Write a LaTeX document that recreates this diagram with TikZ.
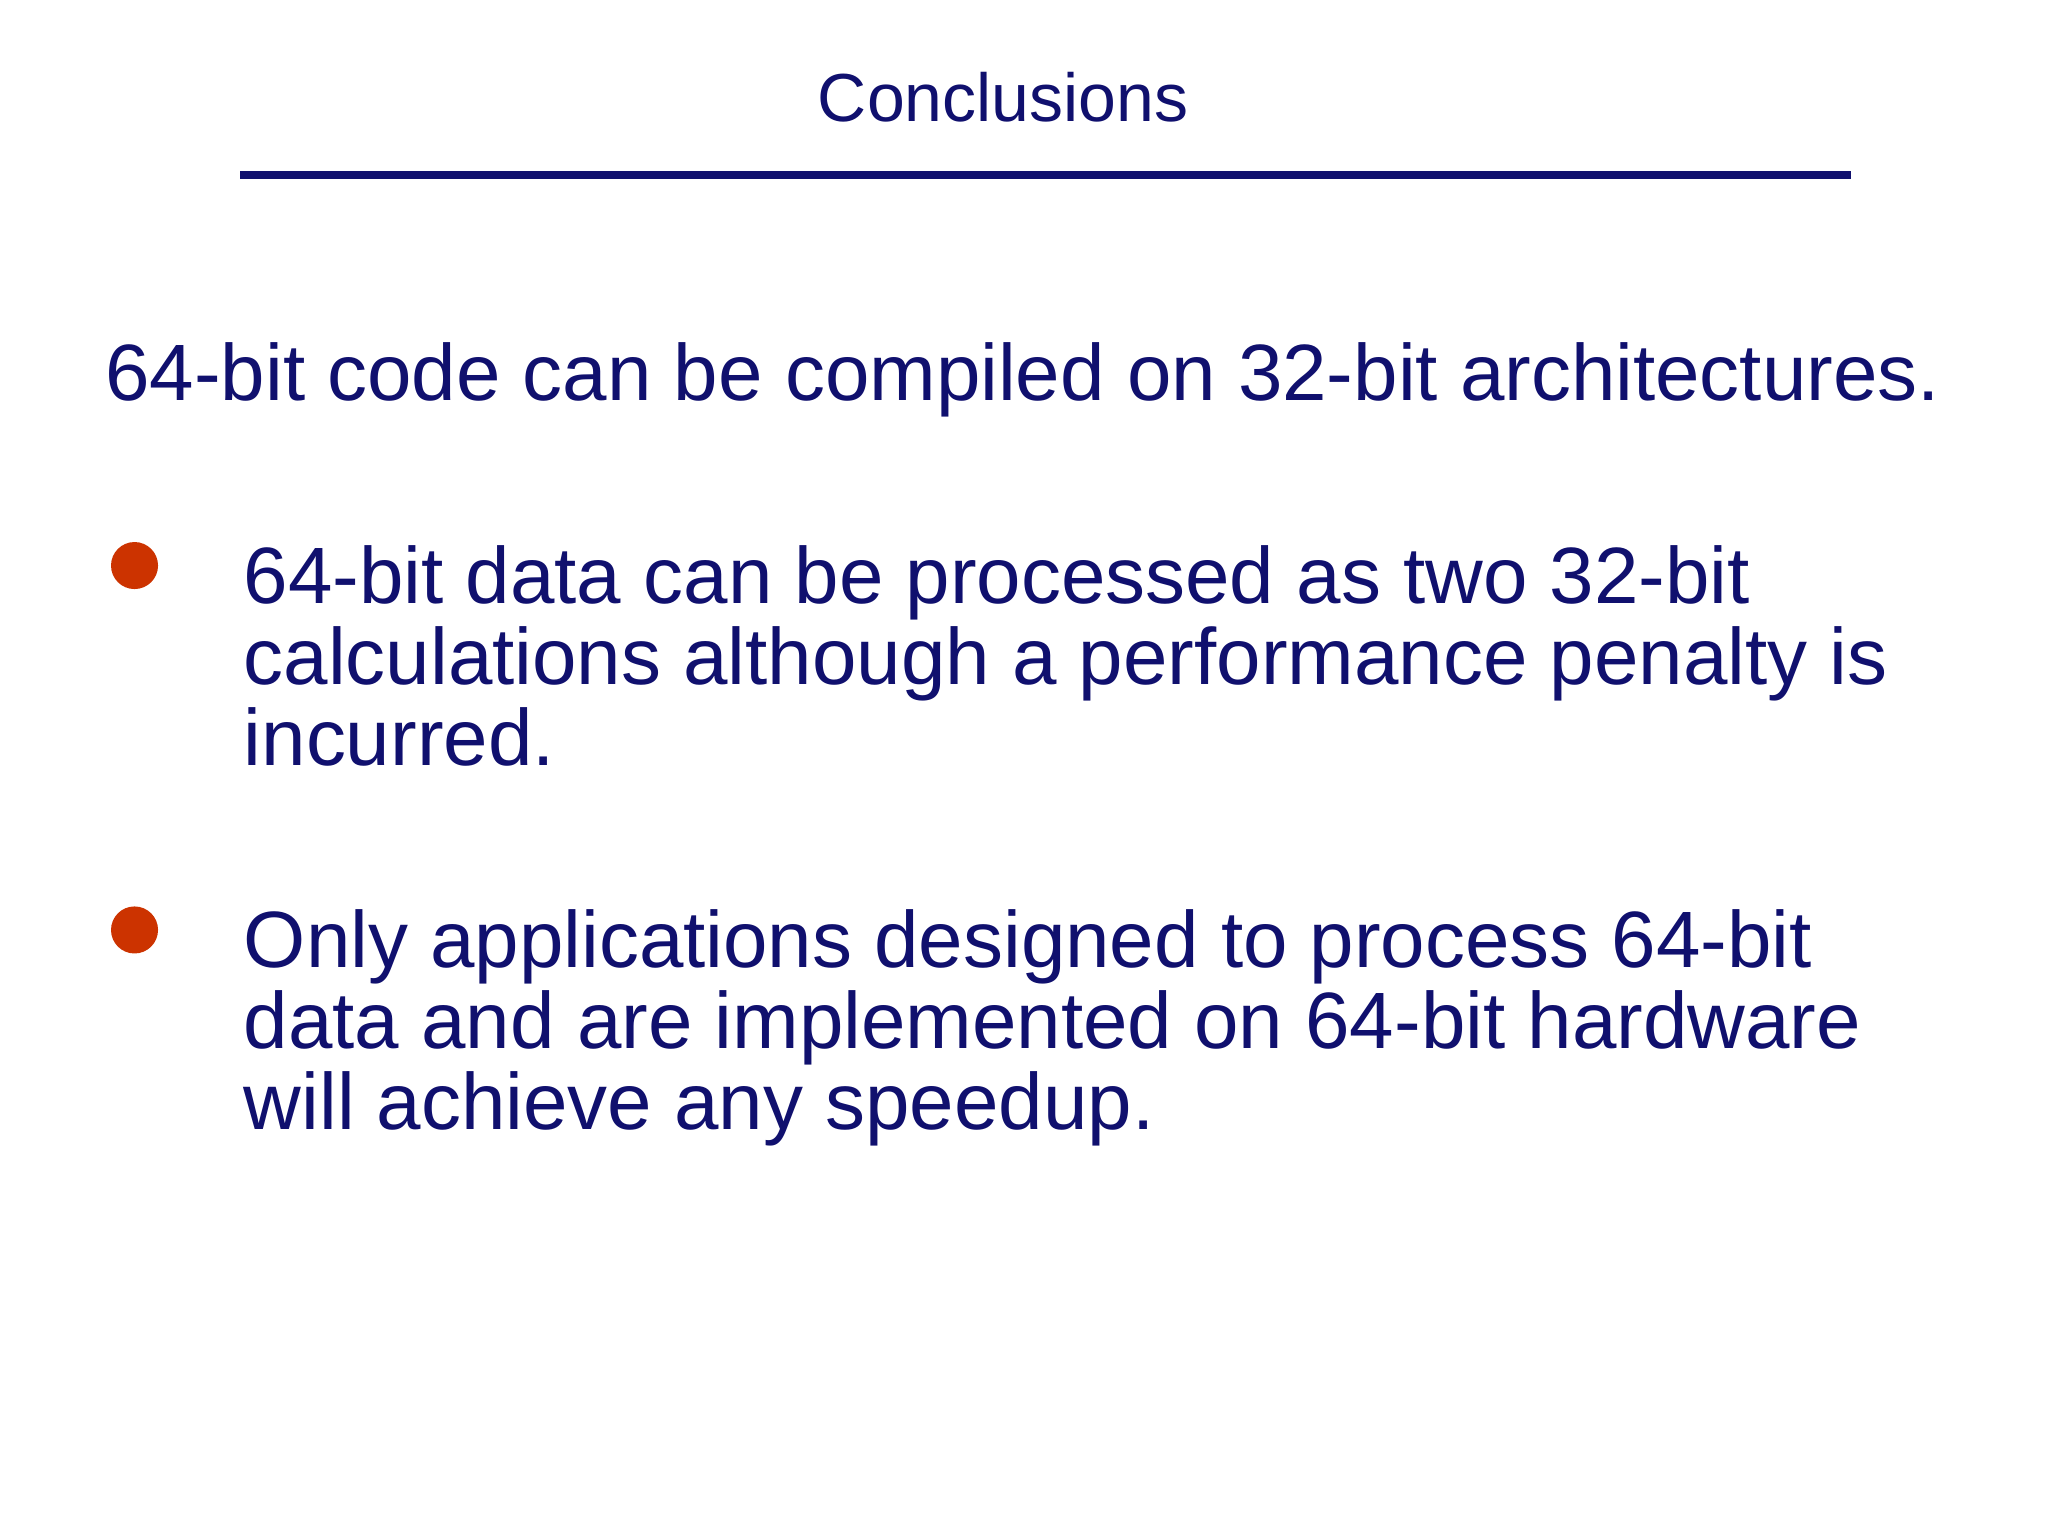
\documentclass[tikz,border=0pt]{standalone}
\usepackage{fontspec}
\setmainfont{Liberation Sans}
\definecolor{navy}{RGB}{16,16,110}
\definecolor{bul}{RGB}{204,51,0}
\begin{document}
\begin{tikzpicture}[x=0.01cm,y=-0.01cm,
  big/.style={anchor=base west,inner sep=0,text=navy,font=\fontsize{17.4}{18}\selectfont},
  dot/.style={circle,fill=bul,minimum size=0.36cm,inner sep=0}]
\useasboundingbox[fill=white] (0,0) rectangle (1568,1176);
\node[anchor=base,inner sep=0,text=navy,font=\fontsize{14.8}{15}\selectfont] (title) at (768,93) {Conclusions};
\draw[navy,line width=0.06cm] (184,134) -- (1417,134);
\node[big] (main) at (80,307) {64-bit code can be compiled on 32-bit architectures.};
\node[dot] (b1) at (103,433) {};
\node[big] (l1) at (186,462) {64-bit data can be processed as two 32-bit};
\node[big] (l2) at (186,524) {calculations although a performance penalty is};
\node[big] (l3) at (186,586) {incurred.};
\node[dot] (b2) at (103,712) {};
\node[big] (m1) at (186,741) {Only applications designed to process 64-bit};
\node[big] (m2) at (186,803) {data and are implemented on 64-bit hardware};
\node[big] (m3) at (186,865) {will achieve any speedup.};
\end{tikzpicture}
\end{document}
